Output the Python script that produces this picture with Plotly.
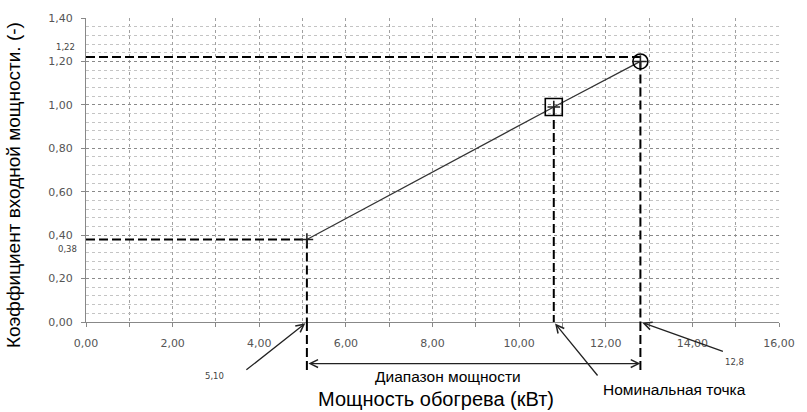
import plotly.graph_objects as go

# Heating power (kW) and input power factor (-)
power_kw = [5.10, 10.8, 12.8]
input_factor = [0.38, 0.99, 1.20]

# Guide levels marked on the axes
min_power = 5.10
nominal_power = 10.8
max_power = 12.8
min_factor = 0.38
max_factor = 1.22

x_tick_vals = [0, 2, 4, 6, 8, 10, 12, 14, 16]
y_tick_vals = [0.0, 0.2, 0.4, 0.6, 0.8, 1.0, 1.2, 1.4]

# Plot area geometry (pixels)
W, H = 807, 412
ML, MR, MT, MB = 86, 21, 15, 90
PW, PH = W - ML - MR, H - MT - MB


def px(x):
    return (x - ML) / PW


def py(y):
    return (H - MB - y) / PH


BASE_FONT = "Liberation Sans, Arial, sans-serif"
TICK_FONT = dict(family="DejaVu Sans, Verdana, sans-serif", size=11, color="#555")
DASH = dict(color="black", width=2, dash="9px,4px")

fig = go.Figure()

# dashed guides inside the plot area
fig.add_trace(go.Scatter(x=[0, min_power, min_power], y=[min_factor, min_factor, 0],
                         mode="lines", line=DASH, hoverinfo="skip", showlegend=False))
fig.add_trace(go.Scatter(x=[nominal_power, nominal_power], y=[input_factor[1], 0],
                         mode="lines", line=DASH, hoverinfo="skip", showlegend=False))
fig.add_trace(go.Scatter(x=[0, max_power], y=[max_factor, max_factor],
                         mode="lines", line=DASH, hoverinfo="skip", showlegend=False))
fig.add_trace(go.Scatter(x=[max_power, max_power], y=[input_factor[2], 0],
                         mode="lines", line=DASH, hoverinfo="skip", showlegend=False))

# characteristic line
fig.add_trace(go.Scatter(x=power_kw, y=input_factor, mode="lines+markers",
                         line=dict(color="#333", width=1.3),
                         marker=dict(symbol="cross-thin", size=9,
                                     line=dict(color="#222", width=1.6)),
                         hoverinfo="skip", showlegend=False))
# nominal and maximum points
fig.add_trace(go.Scatter(x=[power_kw[1]], y=[input_factor[1]], mode="markers",
                         marker=dict(symbol="square-open", size=17,
                                     line=dict(color="black", width=1.6), color="black"),
                         hoverinfo="skip", showlegend=False))
fig.add_trace(go.Scatter(x=[power_kw[2]], y=[input_factor[2]], mode="markers",
                         marker=dict(symbol="circle-open", size=15,
                                     line=dict(color="black", width=1.6), color="black"),
                         hoverinfo="skip", showlegend=False))

# dashed guides continued below the axis
for xv in (min_power, max_power):
    fig.add_shape(type="line", xref="x", yref="paper", x0=xv, x1=xv,
                  y0=0, y1=py(373), line=DASH, layer="above")

annotations = []
# range arrow
annotations.append(dict(xref="x", yref="paper", x=max_power, y=py(364),
                        axref="x", ayref="pixel", ax=min_power, ay=0,
                        text="", showarrow=True, arrowside="end+start",
                        arrowhead=5, startarrowhead=5, arrowsize=1.2,
                        startarrowsize=1.2, arrowwidth=1.3, arrowcolor="#222"))
# pointer arrows to the axis
for xv, dx, dy in ((min_power, -62, 49), (nominal_power, 45, 55), (max_power, 84, 30)):
    annotations.append(dict(xref="x", yref="y", x=xv, y=0, ax=dx, ay=dy,
                            text="", showarrow=True, arrowhead=5, arrowsize=1.2,
                            arrowwidth=1.3, arrowcolor="#222", standoff=2))

small = dict(family="DejaVu Sans, Verdana, sans-serif", size=8.5, color="#444")
label_font = dict(family=BASE_FONT, size=15.5, color="black")
annotations += [
    dict(xref="paper", yref="paper", x=px(77), y=py(44), xanchor="right", yanchor="middle",
         text="1,22", showarrow=False, font=small),
    dict(xref="paper", yref="paper", x=px(79), y=py(248), xanchor="right", yanchor="middle",
         text="0,38", showarrow=False, font=small),
    dict(xref="paper", yref="paper", x=px(216), y=py(377), xanchor="center", yanchor="middle",
         text="5,10", showarrow=False, font=small),
    dict(xref="paper", yref="paper", x=px(741), y=py(362), xanchor="center", yanchor="middle",
         text="12,8", showarrow=False, font=small),
    dict(xref="paper", yref="paper", x=px(452), y=py(377), xanchor="center", yanchor="middle",
         text="Диапазон мощности", showarrow=False, font=label_font),
    dict(xref="paper", yref="paper", x=px(680), y=py(390), xanchor="center", yanchor="middle",
         text="Номинальная точка", showarrow=False, font=label_font),
    dict(xref="paper", yref="paper", x=px(440), y=py(400), xanchor="center", yanchor="middle",
         text="Мощность обогрева (кВт)", showarrow=False,
         font=dict(family=BASE_FONT, size=20, color="black")),
    dict(xref="paper", yref="paper", x=px(13), y=py(184), xanchor="center", yanchor="middle",
         text="Коэффициент входной мощности. (-)", textangle=-90, showarrow=False,
         font=dict(family=BASE_FONT, size=19, color="black")),
]

fig.update_layout(
    width=W, height=H,
    margin=dict(l=ML, r=MR, t=MT, b=MB),
    paper_bgcolor="white", plot_bgcolor="white",
    separators=", ",
    showlegend=False,
    annotations=annotations,
    xaxis=dict(range=[0, 16], tickvals=x_tick_vals, tickformat=".2f",
               showgrid=True, gridcolor="#a0a0a0", gridwidth=1, griddash="dot",
               minor=dict(dtick=1, showgrid=True, gridcolor="#a0a0a0", griddash="dot",
                          ticks="outside", ticklen=4, tickcolor="#888"),
               ticks="outside", ticklen=4, tickcolor="#888",
               showline=True, linecolor="#888", linewidth=1,
               zeroline=False, tickfont=TICK_FONT, ticklabelstandoff=7,
               fixedrange=True),
    yaxis=dict(range=[0, 1.4], tickvals=y_tick_vals, tickformat=".2f",
               showgrid=True, gridcolor="#8a8a8a", gridwidth=1, griddash="dot",
               minor=dict(dtick=0.04, showgrid=True, gridcolor="#c4c4c4", griddash="dot"),
               ticks="outside", ticklen=4, tickcolor="#888",
               showline=True, linecolor="#888", linewidth=1,
               zeroline=False, tickfont=TICK_FONT, ticklabelstandoff=6,
               fixedrange=True),
)

fig.write_html("out.html")
